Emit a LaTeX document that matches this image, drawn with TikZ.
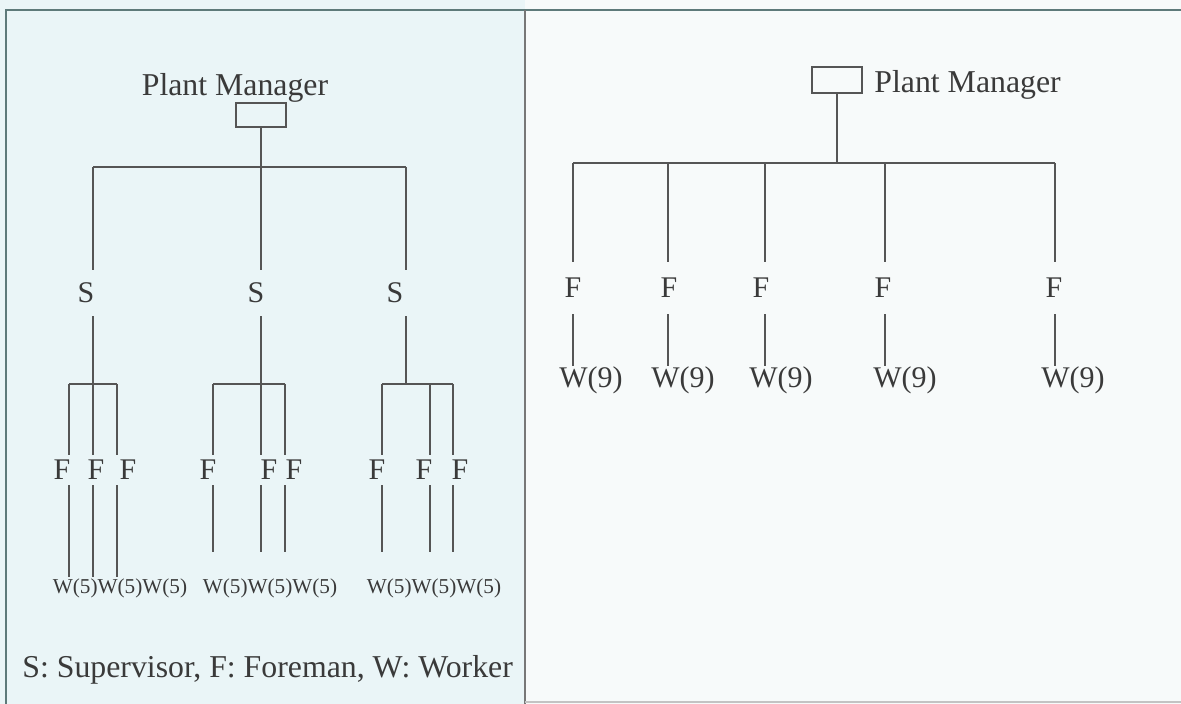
\documentclass[tikz,border=0pt]{standalone}
\usepackage{fontspec}
\setmainfont{Liberation Serif}
\definecolor{leftbg}{HTML}{EAF5F7}
\definecolor{rightbg}{HTML}{F7FAFA}
\definecolor{framecol}{HTML}{5E7A7A}
\definecolor{inkcol}{HTML}{3A3A3A}
\definecolor{linecol}{HTML}{555555}
\begin{document}
\begin{tikzpicture}[x=0.5pt,y=-0.5pt,
  conn/.style={draw=linecol, line width=0.7pt},
  framel/.style={draw=framecol, line width=0.9pt},
  pmtext/.style={inner sep=0pt, text=inkcol, font=\fontsize{15.9}{18}\selectfont},
  pmbox/.style={draw=linecol, line width=0.7pt, inner sep=0pt, minimum width=25pt, minimum height=12pt},
  slbl/.style={inner sep=0pt, text=inkcol, font=\fontsize{15}{18}\selectfont, minimum height=23pt},
  flbl/.style={inner sep=0pt, text=inkcol, font=\fontsize{15}{18}\selectfont, minimum height=15pt},
  rflbl/.style={inner sep=0pt, text=inkcol, font=\fontsize{15}{18}\selectfont, minimum height=26pt},
  wfive/.style={inner sep=0pt, text=inkcol, font=\fontsize{10.6}{12}\selectfont},
  wnine/.style={inner sep=0pt, text=inkcol, font=\fontsize{15}{18}\selectfont},
  legend/.style={inner sep=0pt, text=inkcol, font=\fontsize{15.9}{18}\selectfont}
]
\useasboundingbox (0,0) rectangle (1181,704);
\fill[leftbg] (0,0) rectangle (525,704);
\fill[rightbg] (525,0) rectangle (1181,704);
\draw[framel] (6,704) -- (6,10) -- (1181,10);
\draw[framel, draw=linecol!80] (525,10) -- (525,704);
\draw[draw=linecol!35, line width=1.2pt] (525,702) -- (1181,702);

% ---------- left chart ----------
\node[pmtext] (pmL) at (235,88) {Plant Manager};
\node[pmbox] (boxL) at (261,115) {};
\coordinate (barLa) at (93,167);
\coordinate (barLb) at (261,167);
\coordinate (barLc) at (406,167);
\node[slbl] (S1) at (86,293) {S};
\node[slbl] (S2) at (256,293) {S};
\node[slbl] (S3) at (395,293) {S};
\draw[conn] (barLa) -- (barLc);
\draw[conn] (boxL.south) -- (boxL.south |- S2.north);
\draw[conn] (barLa) -- (barLa |- S1.north);
\draw[conn] (barLc) -- (barLc |- S3.north);

% group bars
\coordinate (g1a) at (69,384); \coordinate (g1b) at (93,384); \coordinate (g1c) at (117,384);
\coordinate (g2a) at (213,384); \coordinate (g2b) at (261,384); \coordinate (g2c) at (285,384);
\coordinate (g3a) at (382,384); \coordinate (g3b) at (430,384); \coordinate (g3c) at (453,384);
\coordinate (g3s) at (406,384);
\draw[conn] (g1a) -- (g1c);
\draw[conn] (g2a) -- (g2c);
\draw[conn] (g3a) -- (g3c);
\draw[conn] (barLa |- S1.south) -- (g1b);
\draw[conn] (boxL.south |- S2.south) -- (g2b);
\draw[conn] (barLc |- S3.south) -- (g3s);

% foremen
\node[flbl] (F11) at (62,470) {F};
\node[flbl] (F12) at (96,470) {F};
\node[flbl] (F13) at (128,470) {F};
\node[flbl] (F21) at (208,470) {F};
\node[flbl] (F22) at (269,470) {F};
\node[flbl] (F23) at (294,470) {F};
\node[flbl] (F31) at (377,470) {F};
\node[flbl] (F32) at (424,470) {F};
\node[flbl] (F33) at (460,470) {F};

% workers
\node[wfive] (W1) at (120,588) {W(5)W(5)W(5)};
\node[wfive] (W2) at (270,588) {W(5)W(5)W(5)};
\node[wfive] (W3) at (434,588) {W(5)W(5)W(5)};
\coordinate (e1a) at (69,577); \coordinate (e1b) at (93,577); \coordinate (e1c) at (117,577);
\coordinate (e2a) at (213,552); \coordinate (e2b) at (261,552); \coordinate (e2c) at (285,552);
\coordinate (e3a) at (382,552); \coordinate (e3b) at (430,552); \coordinate (e3c) at (453,552);

\foreach \g/\f in {g1a/F11, g1b/F12, g1c/F13, g2a/F21, g2b/F22, g2c/F23, g3a/F31, g3b/F32, g3c/F33}
  \draw[conn] (\g) -- (\g |- \f.north);
\foreach \e/\f in {e1a/F11, e1b/F12, e1c/F13, e2a/F21, e2b/F22, e2c/F23, e3a/F31, e3b/F32, e3c/F33}
  \draw[conn] (\e |- \f.south) -- (\e);

\node[legend, anchor=west] (leg) at (22,670) {S: Supervisor, F: Foreman, W: Worker};

% ---------- right chart ----------
\node[pmbox, minimum height=13pt] (boxR) at (837,80) {};
\node[pmtext, anchor=west] (pmR) at (874,85) {Plant Manager};
\coordinate (barR1) at (573,163);
\coordinate (barR2) at (668,163);
\coordinate (barR3) at (765,163);
\coordinate (barR4) at (885,163);
\coordinate (barR5) at (1055,163);
\draw[conn] (barR1) -- (barR5);
\draw[conn] (boxR.south) -- (boxR.south |- barR1);
\node[rflbl] (RF1) at (573,288) {F};
\node[rflbl] (RF2) at (669,288) {F};
\node[rflbl] (RF3) at (761,288) {F};
\node[rflbl] (RF4) at (883,288) {F};
\node[rflbl] (RF5) at (1054,288) {F};
\node[wnine] (RW1) at (591,380) {W(9)};
\node[wnine] (RW2) at (683,380) {W(9)};
\node[wnine] (RW3) at (781,380) {W(9)};
\node[wnine] (RW4) at (905,380) {W(9)};
\node[wnine] (RW5) at (1073,380) {W(9)};
\foreach \b/\f/\w in {barR1/RF1/RW1, barR2/RF2/RW2, barR3/RF3/RW3, barR4/RF4/RW4, barR5/RF5/RW5}{
  \draw[conn] (\b) -- (\b |- \f.north);
  \draw[conn] (\b |- \f.south) -- (\b |- \w.north);
}
\end{tikzpicture}
\end{document}
